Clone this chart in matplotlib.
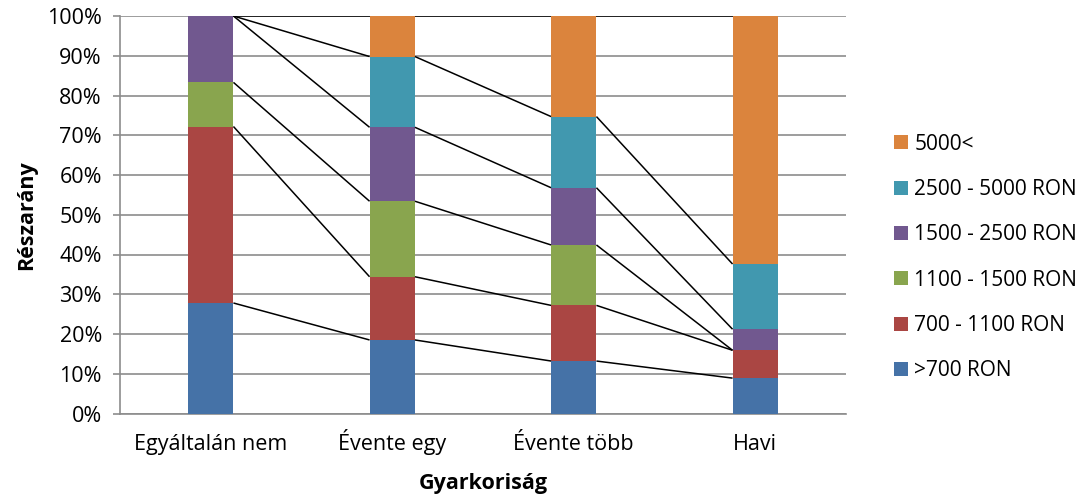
import matplotlib
matplotlib.use("Agg")
import matplotlib.pyplot as plt
import numpy as np
from matplotlib.ticker import FuncFormatter

plt.rcParams['font.family'] = ['Open Sans', 'DejaVu Sans']

categories = ["Egyáltalán nem", "Évente egy", "Évente több", "Havi"]
series_names = [">700 RON", "700 - 1100 RON", "1100 - 1500 RON",
                "1500 - 2500 RON", "2500 - 5000 RON", "5000<"]
# percent shares per category (bottom to top)
s_700 = [27.8, 18.5, 13.2, 8.9]
s_700_1100 = [44.4, 15.9, 14.0, 7.0]
s_1100_1500 = [11.1, 19.0, 15.2, 0.0]
s_1500_2500 = [16.7, 18.6, 14.4, 5.3]
s_2500_5000 = [0.0, 17.8, 17.9, 16.4]
s_5000 = [0.0, 10.2, 25.3, 62.4]
series = [s_700, s_700_1100, s_1100_1500, s_1500_2500, s_2500_5000, s_5000]
colors = ["#4572A7", "#AA4643", "#89A54E", "#71588F", "#4198AF", "#DB843D"]

FS = 15.5
LFS = 15.0

fig = plt.figure(figsize=(10.82, 4.97), dpi=100)
ax = fig.add_axes([120/1082, 1-413.5/497, (846-120)/1082, (413.5-16)/497])

x = np.arange(len(categories))
width = 0.25
data = np.array(series, dtype=float)
totals = data.sum(axis=0)
pct = data / totals * 100
bottom = np.zeros(len(categories))
bars = []
for vals, name, c in zip(pct, series_names, colors):
    b = ax.bar(x, vals, width, bottom=bottom, color=c, label=name, zorder=3,
               edgecolor='none')
    bars.append(b)
    bottom = bottom + vals

# series lines
cum = np.cumsum(pct, axis=0)
for row in cum:
    for i in range(len(categories) - 1):
        ax.plot([x[i] + width/2, x[i+1] - width/2], [row[i], row[i+1]],
                color='black', lw=1.1, zorder=4, solid_capstyle='butt')

ax.set_xlim(-0.5, len(categories) - 0.5)
ax.set_ylim(0, 100)
ax.set_yticks(np.arange(0, 101, 10))
ax.yaxis.set_major_formatter(FuncFormatter(lambda v, p: f"{int(round(v))}%"))
ax.set_xticks(x)
ax.set_xticklabels(categories, va='baseline')
ax.grid(axis='y', color='#8c8c8c', lw=1.2, zorder=0)
ax.set_axisbelow(True)
for s in ['top', 'right']:
    ax.spines[s].set_visible(False)
for s in ['left', 'bottom']:
    ax.spines[s].set_color('#8c8c8c')
    ax.spines[s].set_linewidth(1.2)
ax.tick_params(axis='y', length=5, color='#8c8c8c', width=1.2, labelsize=FS, pad=8)
ax.tick_params(axis='x', length=0, labelsize=FS, pad=26.5)
ax.set_ylabel("Részarány", fontsize=FS, fontweight='bold', labelpad=7)
ax.set_xlabel("Gyarkoriság", fontsize=FS, fontweight='bold')
ax.xaxis.set_label_coords(0.5, -(473 - 413.5) / 397.5)

handles = [b for b in bars][::-1]
labels = series_names[::-1]
leg = fig.legend(handles, labels, loc='center left', bbox_to_anchor=(886/1082, 1-257.5/497),
                 frameon=False, fontsize=LFS, handlelength=0.65, handleheight=0.65,
                 handletextpad=0.3, labelspacing=1.17, borderaxespad=0)

fig.savefig("out.png", dpi=100)
